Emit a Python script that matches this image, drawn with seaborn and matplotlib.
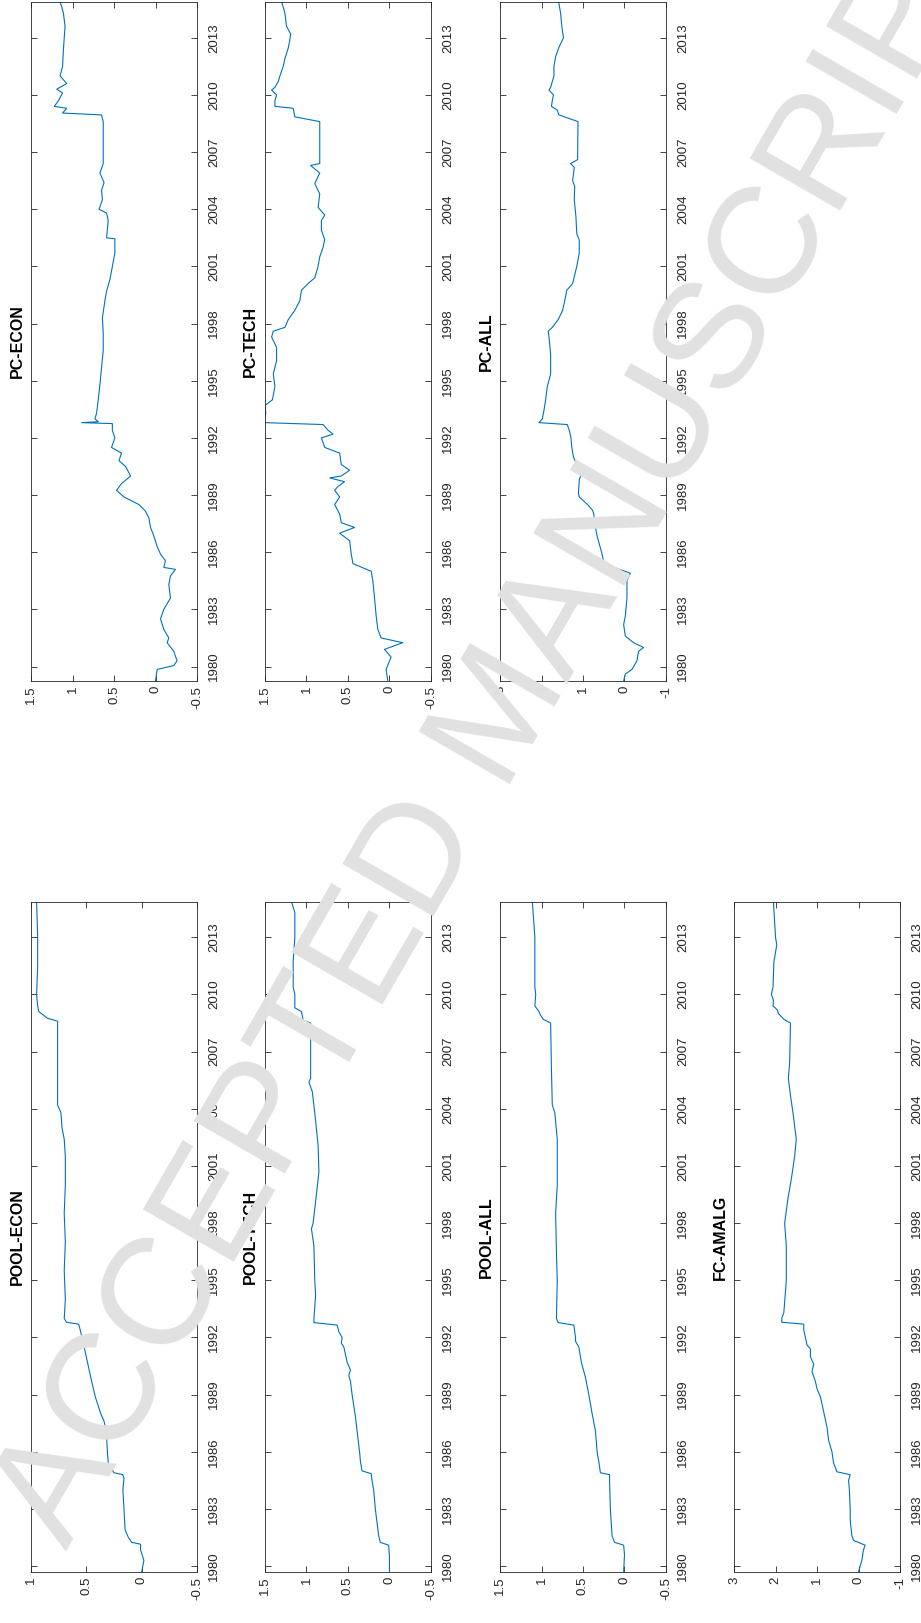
import numpy as np
import pandas as pd
import seaborn as sns
import matplotlib.pyplot as plt

# ---- data (year, value) ----
yr_pool_econ = [1979.70, 1980.00, 1980.30, 1980.85, 1981.15, 1981.25, 1981.50, 1981.90, 1983.00, 1984.00,
                1984.60, 1984.80, 1984.90, 1985.30, 1986.00, 1987.10, 1987.60, 1988.00, 1988.90, 1989.90,
                1990.70, 1991.50, 1991.80, 1992.00, 1992.50, 1992.70, 1992.80, 1993.00, 1994.00, 1995.50,
                1997.00, 1998.50, 2000.00, 2001.50, 2002.40, 2003.00, 2003.80, 2004.20, 2006.00, 2008.60,
                2008.75, 2009.10, 2009.40, 2010.00, 2011.50, 2013.00, 2014.00, 2014.85]
val_pool_econ = [0.00, -0.01, -0.02, 0.01, 0.01, 0.09, 0.12, 0.15, 0.16, 0.17,
                 0.16, 0.17, 0.25, 0.30, 0.31, 0.32, 0.34, 0.37, 0.42, 0.46,
                 0.49, 0.52, 0.535, 0.54, 0.56, 0.57, 0.68, 0.70, 0.69, 0.70,
                 0.69, 0.70, 0.69, 0.69, 0.70, 0.72, 0.73, 0.76, 0.76, 0.76,
                 0.85, 0.93, 0.94, 0.95, 0.94, 0.94, 0.945, 0.95]

yr_pool_tech = [1979.70, 1980.50, 1981.10, 1981.25, 1981.60, 1983.00, 1984.00, 1984.50, 1984.85, 1985.00,
                1985.50, 1986.00, 1987.10, 1987.85, 1989.00, 1989.70, 1990.00, 1990.30, 1990.70, 1991.50,
                1991.70, 1992.00, 1992.30, 1992.65, 1992.78, 1993.00, 1994.20, 1995.00, 1996.80, 1997.70,
                1998.00, 1999.50, 2000.70, 2002.10, 2003.80, 2004.90, 2005.40, 2005.60, 2008.50, 2008.65,
                2009.10, 2009.30, 2010.00, 2010.40, 2011.70, 2013.00, 2014.30, 2014.85]
val_pool_tech = [0.00, 0.00, 0.01, 0.11, 0.13, 0.17, 0.19, 0.21, 0.22, 0.33,
                 0.35, 0.36, 0.39, 0.41, 0.45, 0.47, 0.49, 0.47, 0.51, 0.55,
                 0.58, 0.57, 0.61, 0.63, 0.91, 0.91, 0.89, 0.90, 0.91, 0.94,
                 0.92, 0.88, 0.85, 0.86, 0.90, 0.93, 0.97, 0.95, 0.95, 1.04,
                 1.06, 1.14, 1.14, 1.16, 1.16, 1.14, 1.14, 1.18]

yr_pool_all = [1979.70, 1980.60, 1981.10, 1981.25, 1981.60, 1983.00, 1984.50, 1984.80, 1984.90, 1985.50,
               1986.00, 1987.10, 1988.00, 1989.00, 1989.90, 1990.70, 1991.50, 1991.80, 1992.00, 1992.65,
               1992.78, 1993.00, 1995.00, 1996.50, 1998.50, 2000.00, 2001.00, 2002.40, 2003.80, 2004.20,
               2006.00, 2008.50, 2008.70, 2008.90, 2009.10, 2009.40, 2010.00, 2010.40, 2011.70, 2013.00,
               2014.85]
val_pool_all = [0.01, 0.00, 0.01, 0.12, 0.15, 0.17, 0.18, 0.18, 0.29, 0.31,
                0.33, 0.35, 0.39, 0.43, 0.47, 0.52, 0.55, 0.59, 0.59, 0.61,
                0.80, 0.82, 0.81, 0.82, 0.83, 0.81, 0.81, 0.81, 0.84, 0.87,
                0.88, 0.89, 0.98, 1.01, 1.03, 1.08, 1.07, 1.08, 1.08, 1.08,
                1.11]

yr_fc_amalg = [1979.70, 1980.30, 1980.85, 1981.10, 1981.35, 1981.60, 1982.40, 1983.00, 1984.00, 1984.50,
               1984.80, 1984.95, 1985.40, 1986.00, 1986.60, 1987.30, 1988.10, 1988.90, 1989.30, 1989.70,
               1990.20, 1990.60, 1991.00, 1991.40, 1991.60, 1992.00, 1992.40, 1992.70, 1992.80, 1993.00,
               1993.30, 1995.00, 1996.80, 1998.00, 1999.30, 2000.30, 2001.50, 2002.40, 2003.80, 2004.70,
               2005.60, 2006.40, 2008.50, 2008.70, 2009.00, 2009.20, 2009.40, 2009.70, 2010.00, 2010.40,
               2011.70, 2012.60, 2013.00, 2014.85]
val_fc_amalg = [0.00, -0.08, -0.12, -0.16, 0.12, 0.16, 0.20, 0.20, 0.22, 0.24,
                0.20, 0.52, 0.60, 0.64, 0.72, 0.76, 0.84, 0.92, 1.00, 1.04,
                1.12, 1.08, 1.16, 1.16, 1.24, 1.28, 1.32, 1.32, 1.85, 1.85,
                1.80, 1.74, 1.74, 1.78, 1.70, 1.62, 1.54, 1.50, 1.58, 1.64,
                1.69, 1.66, 1.64, 1.80, 1.93, 1.96, 2.06, 2.05, 2.10, 2.06,
                2.04, 1.97, 2.00, 2.05]

yr_pc_econ = [1979.25, 1979.85, 1980.05, 1980.30, 1980.80, 1981.25, 1981.50, 1981.95, 1982.50, 1983.00,
              1983.60, 1984.30, 1984.75, 1985.10, 1985.20, 1985.55, 1985.90, 1986.30, 1986.85, 1987.30,
              1987.80, 1988.15, 1988.50, 1988.90, 1989.25, 1989.60, 1990.00, 1990.50, 1990.80, 1991.20,
              1991.50, 1992.00, 1992.40, 1992.75, 1992.80, 1992.85, 1993.00, 1993.30, 1994.00, 1994.80,
              1995.70, 1996.60, 1997.50, 1998.30, 1999.20, 1999.70, 2000.30, 2001.00, 2001.70, 2002.45,
              2002.50, 2003.40, 2003.80, 2004.00, 2004.50, 2005.00, 2005.40, 2005.90, 2006.40, 2008.60,
              2008.95, 2009.05, 2009.30, 2009.40, 2009.70, 2010.10, 2010.30, 2010.60, 2011.00, 2011.50,
              2012.35, 2013.00, 2013.60, 2014.30, 2014.90]
val_pc_econ = [0.00, -0.02, -0.22, -0.26, -0.22, -0.14, -0.16, -0.10, -0.06, -0.10,
               -0.18, -0.16, -0.18, -0.24, -0.10, -0.12, -0.06, -0.02, 0.02, 0.06,
               0.08, 0.12, 0.20, 0.38, 0.47, 0.41, 0.30, 0.36, 0.44, 0.41,
               0.53, 0.49, 0.52, 0.52, 0.89, 0.69, 0.73, 0.71, 0.69, 0.67,
               0.65, 0.63, 0.63, 0.64, 0.61, 0.59, 0.55, 0.52, 0.49, 0.49,
               0.59, 0.57, 0.59, 0.68, 0.64, 0.65, 0.62, 0.67, 0.63, 0.63,
               0.65, 1.12, 1.07, 1.22, 1.17, 1.12, 1.19, 1.07, 1.15, 1.12,
               1.11, 1.10, 1.09, 1.11, 1.15]

yr_pc_tech = [1979.25, 1979.85, 1980.50, 1980.90, 1981.25, 1981.50, 1981.95, 1982.65, 1983.60, 1984.50,
              1985.00, 1985.40, 1985.90, 1986.60, 1987.00, 1987.30, 1987.55, 1988.00, 1988.50, 1988.90,
              1989.25, 1989.45, 1989.70, 1989.90, 1990.00, 1990.30, 1990.60, 1991.20, 1991.50, 1992.00,
              1992.20, 1992.40, 1992.70, 1992.80, 1992.90, 1993.30, 1993.70, 1994.00, 1994.70, 1995.35,
              1996.05, 1996.75, 1997.30, 1997.60, 1997.80, 1998.20, 1998.70, 1999.20, 1999.75, 2000.10,
              2000.40, 2001.00, 2001.50, 2002.00, 2002.40, 2002.90, 2003.40, 2003.70, 2004.10, 2004.80,
              2005.35, 2005.90, 2006.30, 2006.40, 2008.60, 2008.85, 2009.30, 2009.40, 2009.70, 2010.00,
              2010.25, 2010.40, 2010.70, 2011.00, 2011.50, 2011.90, 2012.45, 2012.90, 2013.20, 2013.60,
              2014.30, 2014.90]
val_pc_tech = [0.02, 0.04, -0.02, 0.06, -0.16, 0.10, 0.14, 0.16, 0.18, 0.20,
               0.22, 0.44, 0.46, 0.48, 0.60, 0.42, 0.58, 0.60, 0.66, 0.60,
               0.66, 0.62, 0.54, 0.72, 0.58, 0.48, 0.58, 0.60, 0.78, 0.82,
               0.68, 0.74, 0.80, 1.50, 1.52, 1.49, 1.50, 1.41, 1.38, 1.40,
               1.36, 1.36, 1.42, 1.40, 1.26, 1.22, 1.14, 1.08, 1.06, 0.98,
               0.90, 0.86, 0.84, 0.80, 0.78, 0.82, 0.82, 0.78, 0.86, 0.84,
               0.90, 0.84, 0.95, 0.84, 0.84, 1.14, 1.16, 1.38, 1.38, 1.36,
               1.42, 1.38, 1.34, 1.32, 1.28, 1.26, 1.22, 1.20, 1.19, 1.24,
               1.26, 1.30]

yr_pc_all = [1979.25, 1979.60, 1979.85, 1980.30, 1980.80, 1981.00, 1981.25, 1981.60, 1982.20, 1982.65,
             1983.60, 1984.50, 1984.90, 1985.20, 1985.45, 1985.90, 1986.85, 1987.30, 1988.00, 1988.20,
             1988.50, 1988.90, 1989.10, 1989.80, 1990.10, 1990.50, 1991.00, 1991.50, 1992.00, 1992.40,
             1992.70, 1992.80, 1993.00, 1993.45, 1994.00, 1994.70, 1995.35, 1996.40, 1997.30, 1997.60,
             1997.80, 1998.20, 1998.70, 1999.20, 1999.75, 2000.10, 2001.00, 2001.70, 2002.40, 2002.70,
             2003.60, 2004.50, 2005.20, 2005.50, 2006.20, 2006.40, 2006.60, 2008.60, 2008.95, 2009.20,
             2009.40, 2009.70, 2010.00, 2010.25, 2010.40, 2011.00, 2011.50, 2012.00, 2012.50, 2013.00,
             2013.60, 2014.30, 2014.90]
val_pc_all = [0.02, -0.02, -0.18, -0.30, -0.34, -0.46, -0.22, -0.02, 0.02, -0.02,
              -0.06, -0.06, -0.14, 0.26, 0.50, 0.54, 0.66, 0.70, 0.74, 0.77,
              0.89, 1.09, 1.11, 1.09, 1.04, 1.13, 1.23, 1.27, 1.29, 1.33,
              1.38, 2.06, 1.98, 1.94, 1.90, 1.86, 1.78, 1.78, 1.82, 1.84,
              1.74, 1.60, 1.49, 1.44, 1.39, 1.25, 1.15, 1.09, 1.09, 1.15,
              1.17, 1.21, 1.20, 1.25, 1.21, 1.30, 1.13, 1.12, 1.58, 1.62,
              1.76, 1.74, 1.71, 1.82, 1.78, 1.70, 1.70, 1.66, 1.58, 1.47,
              1.51, 1.54, 1.59]

year_ticks = [1980, 1983, 1986, 1989, 1992, 1995, 1998, 2001, 2004, 2007, 2010, 2013]

sns.set_style("white")
plt.rcParams["font.family"] = ["Liberation Sans", "DejaVu Sans"]
plt.rcParams["axes.unicode_minus"] = False

# title, years, values, value limits (high, low), value ticks, column, row
panels = [
    ("POOL-ECON", yr_pool_econ, val_pool_econ, (1, -0.5), [-0.5, 0, 0.5, 1], 0, "pool"),
    ("POOL-TECH", yr_pool_tech, val_pool_tech, (1.5, -0.5), [-0.5, 0, 0.5, 1, 1.5], 1, "pool"),
    ("POOL-ALL", yr_pool_all, val_pool_all, (1.5, -0.5), [-0.5, 0, 0.5, 1, 1.5], 2, "pool"),
    ("FC-AMALG", yr_fc_amalg, val_fc_amalg, (3, -1), [-1, 0, 1, 2, 3], 3, "pool"),
    ("PC-ECON", yr_pc_econ, val_pc_econ, (1.5, -0.5), [-0.5, 0, 0.5, 1, 1.5], 0, "pc"),
    ("PC-TECH", yr_pc_tech, val_pc_tech, (1.5, -0.5), [-0.5, 0, 0.5, 1, 1.5], 1, "pc"),
    ("PC-ALL", yr_pc_all, val_pc_all, (3, -1), [-1, 0, 1, 2, 3], 2, "pc"),
]

fig = plt.figure(figsize=(9.21, 16.23), dpi=100)
lefts = [0.0337, 0.2877, 0.5429, 0.7970]
rows = {"pool": (0.0314, 0.4128, (1979.69, 2014.85)),
        "pc": (0.5804, 0.4184, (1979.24, 2014.88))}
dark = "#262626"

for title, yrs, vals, vlim, vticks, col, row in panels:
    bottom, height, ylim = rows[row]
    ax = fig.add_axes([lefts[col], bottom, 0.1802, height])
    df = pd.DataFrame({"year": yrs, "value": vals})
    sns.lineplot(data=df, x="value", y="year", sort=False, estimator=None,
                 color="#0072BD", linewidth=0.8, ax=ax)
    ax.set_xlim(*vlim)
    ax.set_ylim(*ylim)
    ax.set_xlabel("")
    ax.set_ylabel("")
    ax.set_xticks(vticks)
    ax.set_xticklabels([f"{v:g}" for v in vticks], rotation=90)
    ax.set_yticks(year_ticks)
    ax.set_yticklabels([str(y) for y in year_ticks], rotation=90, va="center")
    ax.tick_params(axis="x", direction="in", top=True, bottom=True, length=4,
                   width=0.6, color=dark, labelsize=9.5, pad=3.5, labelcolor=dark)
    ax.tick_params(axis="y", direction="in", left=True, right=True, labelleft=False,
                   labelright=True, length=4, width=0.6, color=dark, labelsize=9.5,
                   pad=8, labelcolor=dark)
    for s in ax.spines.values():
        s.set_color(dark)
        s.set_linewidth(0.6)
    ax.text(-0.085, 0.5, title, rotation=90, transform=ax.transAxes, ha="center",
            va="center", fontweight="bold", fontsize=11.5, color="black")

# watermark across the page
fig.text(0.548, 0.559, "ACCEPTED MANUSCRIPT", rotation=60, ha="center", va="center",
         rotation_mode="anchor", fontsize=110, color="#e1e1e1", zorder=10)

fig.savefig("out.png", dpi=100)
